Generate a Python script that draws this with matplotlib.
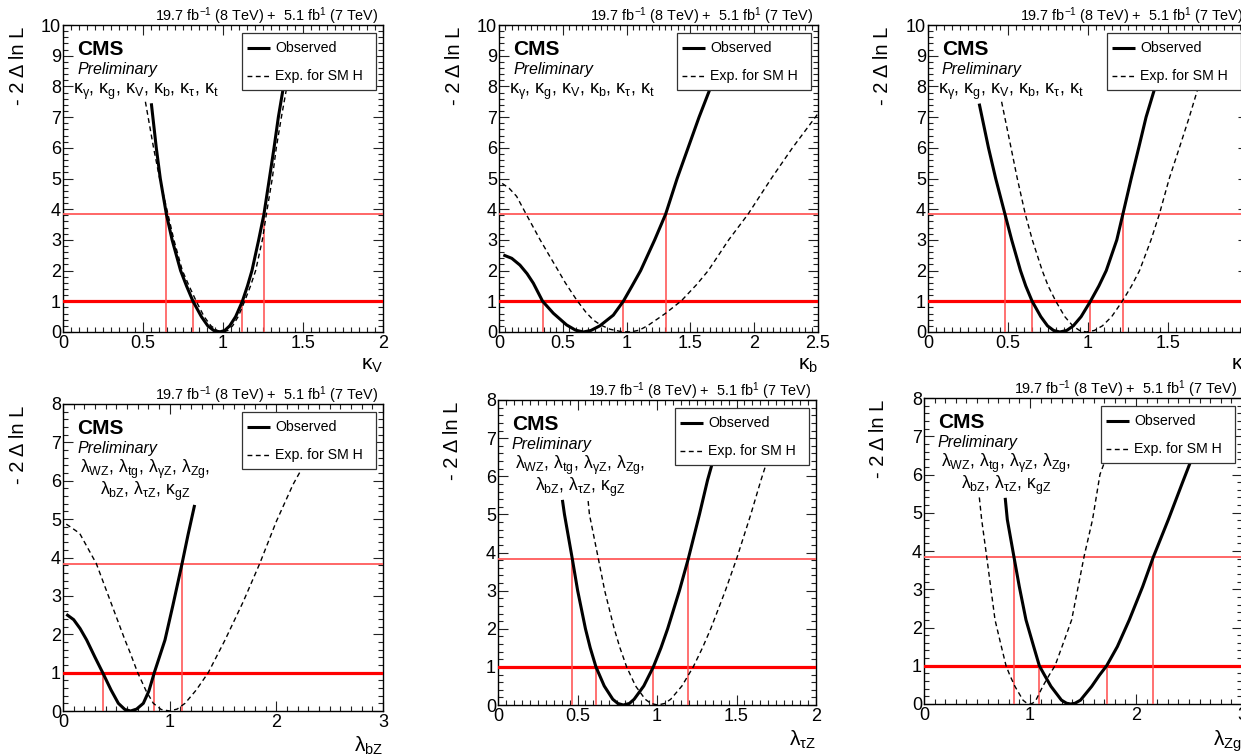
import matplotlib
matplotlib.use('Agg')
import matplotlib.pyplot as plt
from matplotlib.patches import Rectangle
from matplotlib.ticker import MultipleLocator, FuncFormatter

plt.rcParams['font.family'] = ['Liberation Sans', 'DejaVu Sans']
plt.rcParams['mathtext.fontset'] = 'custom'
plt.rcParams['mathtext.rm'] = 'Liberation Sans'
plt.rcParams['mathtext.it'] = 'Liberation Sans:italic'
plt.rcParams['mathtext.bf'] = 'Liberation Sans:bold'
plt.rcParams['mathtext.default'] = 'regular'

W, H = 1241, 755

# ---------------- data ----------------
# kappa_V
kV_obs_x = [0.552, 0.583, 0.608, 0.646, 0.682, 0.735, 0.772, 0.8125, 0.865, 0.905, 0.942, 0.979, 1.011, 1.042, 1.079, 1.121, 1.153, 1.181, 1.223, 1.256, 1.290, 1.319, 1.346, 1.375, 1.41]
kV_obs_y = [7.45, 6.0, 5.0, 3.84, 3.0, 2.0, 1.5, 1.0, 0.5, 0.2, 0.05, 0.0, 0.05, 0.2, 0.5, 1.0, 1.5, 2.0, 3.0, 3.84, 5.0, 6.0, 7.0, 7.9, 9.0]
kV_exp_x = [0.515, 0.566, 0.604, 0.656, 0.693, 0.746, 0.788, 0.833, 0.882, 0.925, 0.963, 1.0, 1.03, 1.06, 1.095, 1.135, 1.172, 1.204, 1.246, 1.271, 1.308, 1.333, 1.365, 1.396, 1.43]
kV_exp_y = [7.5, 6.0, 5.0, 3.84, 3.0, 2.0, 1.5, 1.0, 0.5, 0.2, 0.05, 0.0, 0.05, 0.2, 0.5, 1.0, 1.5, 2.0, 3.0, 3.84, 5.0, 6.0, 7.0, 7.9, 9.0]
kV_cross68 = [0.8125, 1.121]
kV_cross95 = [0.646, 1.256]

# kappa_b
kb_obs_x = [0.034, 0.10, 0.164, 0.22, 0.269, 0.342, 0.426, 0.53, 0.60, 0.661, 0.72, 0.79, 0.896, 0.974, 1.04, 1.11, 1.22, 1.306, 1.396, 1.482, 1.568, 1.652, 1.73]
kb_obs_y = [2.51, 2.40, 2.18, 1.90, 1.59, 1.0, 0.61, 0.23, 0.06, 0.0, 0.05, 0.20, 0.55, 1.0, 1.48, 2.0, 3.0, 3.84, 5.0, 6.0, 7.0, 7.9, 8.8]
kb_exp_x = [0.025, 0.08, 0.138, 0.21, 0.32, 0.40, 0.45, 0.52, 0.609, 0.68, 0.739, 0.80, 0.87, 0.95, 1.03, 1.10, 1.17, 1.24, 1.306, 1.43, 1.55, 1.64, 1.80, 1.952, 2.134, 2.30, 2.487, 2.50]
kb_exp_y = [4.84, 4.68, 4.42, 3.86, 3.02, 2.45, 2.10, 1.60, 1.04, 0.65, 0.39, 0.22, 0.09, 0.02, 0.0, 0.06, 0.22, 0.42, 0.61, 1.02, 1.55, 2.0, 3.0, 3.84, 5.0, 6.0, 7.04, 7.12]
kb_cross68 = [0.342, 0.974]
kb_cross95 = [1.306]

# kappa_t
kt_obs_x = [0.32, 0.378, 0.423, 0.481, 0.523, 0.578, 0.611, 0.651, 0.705, 0.747, 0.785, 0.824, 0.867, 0.908, 0.957, 1.015, 1.068, 1.114, 1.18, 1.218, 1.27, 1.317, 1.363, 1.415, 1.46]
kt_obs_y = [7.44, 6.0, 5.0, 3.84, 3.0, 2.0, 1.5, 1.0, 0.5, 0.2, 0.05, 0.0, 0.05, 0.2, 0.5, 1.0, 1.5, 2.0, 3.0, 3.84, 5.0, 6.0, 7.0, 7.9, 8.8]
kt_exp_x = [0.46, 0.519, 0.558, 0.608, 0.652, 0.714, 0.751, 0.799, 0.855, 0.905, 0.947, 0.99, 1.04, 1.09, 1.148, 1.214, 1.272, 1.322, 1.394, 1.446, 1.508, 1.571, 1.633, 1.685, 1.74]
kt_exp_y = [7.5, 6.0, 5.0, 3.84, 3.0, 2.0, 1.5, 1.0, 0.5, 0.2, 0.05, 0.0, 0.05, 0.2, 0.5, 1.0, 1.5, 2.0, 3.0, 3.84, 5.0, 6.0, 7.0, 7.9, 8.8]
kt_cross68 = [0.651, 1.015]
kt_cross95 = [0.481, 1.218]

# lambda_bZ
lbZ_obs_x = [0.031, 0.10, 0.16, 0.222, 0.30, 0.372, 0.45, 0.519, 0.58, 0.634, 0.69, 0.753, 0.805, 0.856, 0.956, 1.03, 1.116, 1.172, 1.234]
lbZ_obs_y = [2.52, 2.38, 2.15, 1.85, 1.40, 1.0, 0.55, 0.2, 0.04, 0.0, 0.05, 0.2, 0.52, 1.0, 1.85, 2.75, 3.84, 4.59, 5.37]
lbZ_exp_x = [0.031, 0.156, 0.3125, 0.469, 0.581, 0.625, 0.70, 0.78, 0.847, 0.92, 1.0, 1.07, 1.144, 1.25, 1.362, 1.519, 1.69, 1.844, 2.0, 2.156, 2.234, 2.33]
lbZ_exp_y = [4.87, 4.63, 3.84, 2.68, 1.85, 1.55, 1.0, 0.52, 0.2, 0.04, 0.0, 0.05, 0.2, 0.55, 1.0, 1.85, 2.85, 3.84, 4.94, 5.9, 6.29, 7.2]
lbZ_cross68 = [0.372, 0.856]
lbZ_cross95 = [1.116]

# lambda_tauZ
ltZ_obs_x = [0.405, 0.418, 0.467, 0.501, 0.55, 0.58, 0.616, 0.668, 0.722, 0.754, 0.788, 0.826, 0.856, 0.917, 0.977, 1.025, 1.067, 1.141, 1.197, 1.267, 1.318, 1.345, 1.40]
ltZ_obs_y = [5.38, 5.0, 3.84, 3.0, 2.0, 1.5, 1.0, 0.5, 0.15, 0.04, 0.0, 0.04, 0.15, 0.5, 1.0, 1.5, 2.0, 3.0, 3.84, 5.0, 5.9, 6.3, 7.3]
ltZ_exp_x = [0.567, 0.575, 0.631, 0.671, 0.731, 0.767, 0.809, 0.865, 0.926, 0.962, 1.005, 1.048, 1.086, 1.157, 1.228, 1.286, 1.338, 1.43, 1.501, 1.59, 1.654, 1.684, 1.75]
ltZ_exp_y = [5.35, 5.0, 3.84, 3.0, 2.0, 1.5, 1.0, 0.5, 0.15, 0.04, 0.0, 0.04, 0.15, 0.5, 1.0, 1.5, 2.0, 3.0, 3.84, 5.0, 5.9, 6.29, 7.3]
ltZ_cross68 = [0.616, 0.977]
ltZ_cross95 = [0.467, 1.197]

# lambda_Zg
lZg_obs_x = [0.766, 0.786, 0.849, 0.899, 0.962, 1.035, 1.088, 1.138, 1.198, 1.297, 1.345, 1.384, 1.425, 1.476, 1.582, 1.654, 1.723, 1.824, 1.937, 2.063, 2.163, 2.305, 2.44, 2.51, 2.62]
lZg_obs_y = [5.39, 4.82, 3.84, 3.07, 2.2, 1.5, 1.0, 0.75, 0.46, 0.1, 0.02, 0.0, 0.02, 0.1, 0.46, 0.75, 1.0, 1.5, 2.2, 3.07, 3.84, 4.82, 5.8, 6.3, 7.0]
lZg_exp_x = [0.522, 0.544, 0.59, 0.67, 0.73, 0.774, 0.81, 0.858, 0.934, 0.97, 1.0, 1.025, 1.056, 1.12, 1.18, 1.236, 1.302, 1.393, 1.512, 1.59, 1.66, 1.70, 1.74]
lZg_exp_y = [5.4, 4.82, 3.88, 2.2, 1.5, 1.0, 0.75, 0.46, 0.1, 0.02, 0.0, 0.02, 0.1, 0.46, 0.75, 1.0, 1.5, 2.2, 3.88, 4.82, 6.0, 6.3, 7.0]
lZg_cross68 = [1.088, 1.723]
lZg_cross95 = [0.849, 2.163]

LUMI = r'19.7 fb$^{-1}$ (8 TeV) +  5.1 fb$^{1}$ (7 TeV)'
KAPPA_MODEL = [r'$κ_{γ}$, $κ_{g}$, $κ_{V}$, $κ_{b}$, $κ_{τ}$, $κ_{t}$']
LAMBDA_MODEL = [r'$λ_{WZ}$, $λ_{tg}$, $λ_{γZ}$, $λ_{Zg}$,', r'$λ_{bZ}$, $λ_{τZ}$, $κ_{gZ}$']
YLABEL = '- 2 Δ ln L'
LEG_OBS = 'Observed'
LEG_EXP = 'Exp. for SM H'

# ---------------- layout ----------------
panels = [
    dict(box=(63, 25, 383, 332), xlim=(0, 2), ylim=(0, 10), xmaj=0.5, xmin=0.05,
         obs=(kV_obs_x, kV_obs_y), exp=(kV_exp_x, kV_exp_y), c68=kV_cross68, c95=kV_cross95,
         xlabel=r'$κ_{V}$', model=KAPPA_MODEL, center=False),
    dict(box=(499, 25, 818, 332), xlim=(0, 2.5), ylim=(0, 10), xmaj=0.5, xmin=0.05,
         obs=(kb_obs_x, kb_obs_y), exp=(kb_exp_x, kb_exp_y), c68=kb_cross68, c95=kb_cross95,
         xlabel=r'$κ_{b}$', model=KAPPA_MODEL, center=False),
    dict(box=(928, 25, 1248, 332), xlim=(0, 2), ylim=(0, 10), xmaj=0.5, xmin=0.05,
         obs=(kt_obs_x, kt_obs_y), exp=(kt_exp_x, kt_exp_y), c68=kt_cross68, c95=kt_cross95,
         xlabel=r'$κ_{t}$', model=KAPPA_MODEL, center=False),
    dict(box=(63, 404, 383, 711), xlim=(0, 3), ylim=(0, 8), xmaj=1, xmin=0.1,
         obs=(lbZ_obs_x, lbZ_obs_y), exp=(lbZ_exp_x, lbZ_exp_y), c68=lbZ_cross68, c95=lbZ_cross95,
         xlabel=r'$λ_{bZ}$', model=LAMBDA_MODEL, center=True),
    dict(box=(498, 400, 816, 705), xlim=(0, 2), ylim=(0, 8), xmaj=0.5, xmin=0.05,
         obs=(ltZ_obs_x, ltZ_obs_y), exp=(ltZ_exp_x, ltZ_exp_y), c68=ltZ_cross68, c95=ltZ_cross95,
         xlabel=r'$λ_{τZ}$', model=LAMBDA_MODEL, center=True),
    dict(box=(924, 398, 1242, 704), xlim=(0, 3), ylim=(0, 8), xmaj=1, xmin=0.1,
         obs=(lZg_obs_x, lZg_obs_y), exp=(lZg_exp_x, lZg_exp_y), c68=lZg_cross68, c95=lZg_cross95,
         xlabel=r'$λ_{Zg}$', model=LAMBDA_MODEL, center=True),
]

OBS_STYLE = dict(color='black', lw=2.2, solid_capstyle='butt', solid_joinstyle='round', zorder=5)
EXP_STYLE = dict(color='black', lw=1.0, linestyle=(0, (3.5, 2.5)), zorder=5)
RED68 = dict(color='#ff0000', lw=2.3, zorder=3)
RED95 = dict(color='#ff5a5a', lw=1.3, zorder=3)
REDV = dict(colors='#ff4a4a', lw=1.1, zorder=3)

fig = plt.figure(figsize=(W / 100, H / 100), dpi=100)

fmt = FuncFormatter(lambda v, pos: f'{v:g}')

for p in panels:
    l, t, r, b = p['box']
    pw, ph = r - l, b - t
    ax = fig.add_axes([l / W, 1 - b / H, pw / W, ph / H])

    def fx(X, l=l, pw=pw):
        return (X - l) / pw

    def fy(Y, b=b, ph=ph):
        return (b - Y) / ph

    ax.set_xlim(*p['xlim'])
    ax.set_ylim(*p['ylim'])
    ax.xaxis.set_major_locator(MultipleLocator(p['xmaj']))
    ax.xaxis.set_minor_locator(MultipleLocator(p['xmin']))
    ax.yaxis.set_major_locator(MultipleLocator(1))
    ax.yaxis.set_minor_locator(MultipleLocator(0.2))
    ax.xaxis.set_major_formatter(fmt)
    ax.yaxis.set_major_formatter(fmt)
    ax.tick_params(which='both', direction='in', top=True, right=True,
                   labelsize=13, width=0.8, color='#222222')
    ax.tick_params(which='major', length=7.2)
    ax.tick_params(which='minor', length=3.6)
    ax.tick_params(axis='x', pad=2.5)
    ax.tick_params(axis='y', pad=1.5)
    for s in ax.spines.values():
        s.set_linewidth(1.0)

    # red reference lines
    ax.axhline(1.0, **RED68)
    ax.axhline(3.84, **RED95)
    ax.vlines(p['c68'], 0, 1.0, **REDV)
    ax.vlines(p['c95'], 0, 3.84, **REDV)

    # curves
    ax.plot(p['obs'][0], p['obs'][1], **OBS_STYLE)
    ax.plot(p['exp'][0], p['exp'][1], **EXP_STYLE)

    # legend box
    bw, bh = 134, 57
    bx0 = r - 7 - bw
    by0 = t + 8
    ax.add_patch(Rectangle((fx(bx0), fy(by0 + bh)), bw / pw, bh / ph,
                           transform=ax.transAxes, facecolor='white',
                           edgecolor='#333333', lw=0.9, zorder=10))
    for row, (lab, sty) in enumerate([(LEG_OBS, OBS_STYLE), (LEG_EXP, EXP_STYLE)]):
        yy = by0 + 15 + 28 * row
        st = dict(sty)
        st['zorder'] = 11
        ax.plot([fx(bx0 + 5), fx(bx0 + 28)], [fy(yy), fy(yy)],
                transform=ax.transAxes, clip_on=False, **st)
        ax.text(fx(bx0 + 33), fy(yy), lab, transform=ax.transAxes,
                fontsize=10.2, va='center', ha='left', zorder=11)

    # texts
    ax.text(fx(r - 5), fy(t - 4), LUMI, transform=ax.transAxes,
            fontsize=10.4, ha='right', va='baseline')
    ax.text(fx(l + 14), fy(t + 30), 'CMS', transform=ax.transAxes,
            fontsize=15, fontweight='bold', ha='left', va='baseline', zorder=12)
    ax.text(fx(l + 14), fy(t + 49), 'Preliminary', transform=ax.transAxes,
            fontsize=11.5, fontstyle='italic', ha='left', va='baseline', zorder=12)
    if p['center']:
        for i, line in enumerate(p['model']):
            ax.text(fx(l + 82), fy(t + 69 + 22 * i), line, transform=ax.transAxes,
                    fontsize=12.7, ha='center', va='baseline', zorder=12)
    else:
        ax.text(fx(l + 10), fy(t + 69), p['model'][0], transform=ax.transAxes,
                fontsize=12.9, ha='left', va='baseline', zorder=12)

    ax.text(fx(l - 45), fy(t + 2), YLABEL, transform=ax.transAxes,
            fontsize=14.5, rotation=90, ha='center', va='top')
    ax.text(fx(r), fy(b + 24), p['xlabel'], transform=ax.transAxes,
            fontsize=15, ha='right', va='top')

fig.savefig('out.png', dpi=100)
